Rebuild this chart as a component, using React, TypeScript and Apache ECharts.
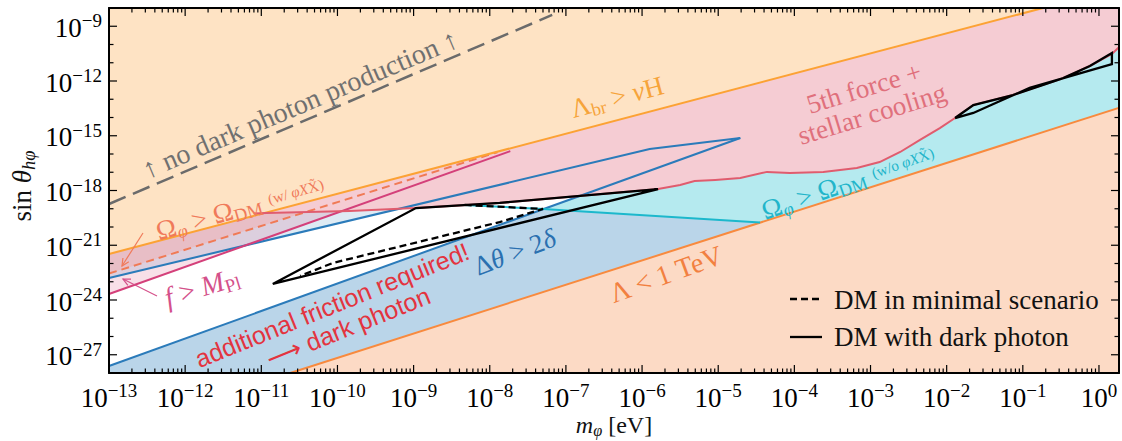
import React, { useEffect, useRef } from 'react';
import * as echarts from 'echarts';

// ---- axis extents (log10 units) ----
const X_MIN = -13;
const X_MAX = 0.263;
const Y_MIN = -28;
const Y_MAX = -8;

const xTickExponents = [-13, -12, -11, -10, -9, -8, -7, -6, -5, -4, -3, -2, -1, 0];
const yTickExponents = [-28, -27, -26, -25, -24, -23, -22, -21, -20, -19, -18, -17, -16, -15, -14, -13, -12, -11, -10, -9, -8];
const yLabelExponents = [-27, -24, -21, -18, -15, -12, -9];
const minorMultipliers = [2, 3, 4, 5, 6, 7, 8, 9];

// ---- curves: [log10 m_phi, log10 sin theta] ----
const noPhotonLine = [[-13, -18.74], [-7.18, -8.38]];
const lambdaBrLine = [[-13, -21.48], [-0.735, -8]];
const lambdaTeVLine = [[-10.62, -28], [0.3, -13.42]];
const lowerBlueLine = [[-13, -27.62], [-4.71, -15.12]];
const upperBlueLine = [[-13, -22.79], [-5.9, -15.73], [-4.71, -15.12]];
const fMplLine = [[-13, -23.67], [-7.73, -15.84]];
const omegaWithLine = [[-13, -22.55], [-7.9, -15.9]];
const omegaWithoutLine = [[-8.33, -18.79], [-7.3, -19.01], [-4.45, -19.75]];
const fifthForceLine = [
  [-11.1, -19.26], [-10.93, -19.23], [-9.84, -19.12], [-8.97, -18.96], [-7.87, -18.68],
  [-5.79, -17.92], [-5.5, -17.7], [-5.31, -17.48], [-5.04, -17.42], [-4.71, -17.32],
  [-4.36, -16.98], [-4.06, -17.04], [-3.62, -16.99], [-3.18, -16.77], [-2.88, -16.44],
  [-2.61, -15.89], [-2.35, -15.23], [-2.09, -14.58], [-1.89, -14.03], [-1.65, -13.32],
  [-1.13, -12.77], [-0.47, -11.84], [-0.12, -11.18], [0.17, -10.52], [0.3, -10.0],
];
const dmPhotonLeft = [[-10.85, -23.12], [-8.97, -18.96], [-7.87, -18.68], [-5.79, -17.92], [-10.85, -23.12]];
const dmPhotonRight = [
  [-1.89, -14.03], [-1.65, -13.32], [-1.13, -12.77], [-0.47, -11.84], [-0.12, -11.18],
  [0.17, -10.47], [0.17, -11.07], [-0.91, -12.38], [-1.65, -13.75], [-1.89, -14.03],
];
const dmMinimal = [[-8.33, -18.79], [-7.3, -19.01], [-7.87, -19.73], [-10.06, -21.97], [-10.49, -22.68]];

const SERIF = '"Liberation Serif", "DejaVu Serif", serif';
const SANS = '"Liberation Sans", "DejaVu Sans", sans-serif';

function polySeries(points: number[][], color: string, z: number) {
  return {
    type: 'custom',
    coordinateSystem: 'cartesian2d',
    clip: true,
    silent: true,
    z,
    data: [[X_MIN, Y_MIN]],
    renderItem: (_p: any, api: any) => ({
      type: 'polygon',
      shape: { points: points.map((p) => api.coord(p)) },
      style: { fill: color },
    }),
  };
}

function lineSeries(points: number[][], color: string, width: number, z: number, dash?: number[], name?: string) {
  return {
    type: 'line',
    name,
    data: points,
    showSymbol: false,
    symbol: 'none',
    silent: true,
    clip: true,
    z,
    lineStyle: { color, width, type: dash ? dash : 'solid', cap: 'butt', join: 'miter' },
  };
}

function tickSeries(data: number[][], isX: boolean) {
  return {
    type: 'custom',
    coordinateSystem: 'cartesian2d',
    clip: false,
    silent: true,
    z: 30,
    data,
    renderItem: (params: any, api: any) => {
      const cs = params.coordSys;
      const len = api.value(2);
      const st = { stroke: '#000', lineWidth: 1.2 };
      if (isX) {
        const px = api.coord([api.value(0), Y_MIN])[0];
        return {
          type: 'group',
          children: [
            { type: 'line', shape: { x1: px, y1: cs.y + cs.height, x2: px, y2: cs.y + cs.height - len }, style: st },
            { type: 'line', shape: { x1: px, y1: cs.y, x2: px, y2: cs.y + len }, style: st },
          ],
        };
      }
      const py = api.coord([X_MIN, api.value(1)])[1];
      return {
        type: 'group',
        children: [
          { type: 'line', shape: { x1: cs.x, y1: py, x2: cs.x + len, y2: py }, style: st },
          { type: 'line', shape: { x1: cs.x + cs.width, y1: py, x2: cs.x + cs.width - len, y2: py }, style: st },
        ],
      };
    },
  };
}

function richSet(size: number, color: string, family = SERIF) {
  return {
    r: { fontFamily: family, fontSize: size, fill: color, lineHeight: size * 1.15, verticalAlign: 'middle' },
    i: { fontFamily: family, fontStyle: 'italic', fontSize: size, fill: color, lineHeight: size * 1.15, verticalAlign: 'middle' },
    s: { fontFamily: family, fontSize: size * 0.68, fill: color, lineHeight: size * 0.8, verticalAlign: 'bottom' },
    si: { fontFamily: family, fontStyle: 'italic', fontSize: size * 0.68, fill: color, lineHeight: size * 0.8, verticalAlign: 'bottom' },
    t: { fontFamily: family, fontSize: size * 0.56, fill: color, lineHeight: size * 0.6, verticalAlign: 'middle' },
    ti: { fontFamily: family, fontStyle: 'italic', fontSize: size * 0.56, fill: color, lineHeight: size * 0.6, verticalAlign: 'middle' },
  };
}

function label(text: string, x: number, y: number, rotDeg: number, color: string, size: number, family = SERIF, align = 'center') {
  return {
    type: 'text',
    x,
    y,
    rotation: (rotDeg * Math.PI) / 180,
    z: 100,
    silent: true,
    style: {
      text,
      rich: richSet(size, color, family),
      fill: color,
      fontFamily: family,
      fontSize: size,
      align,
      verticalAlign: 'middle',
    },
  };
}

function arrow(x1: number, y1: number, x2: number, y2: number, color: string) {
  const a = Math.atan2(y2 - y1, x2 - x1);
  const h = 8;
  const w = 0.45;
  return {
    type: 'group',
    z: 100,
    silent: true,
    children: [
      { type: 'line', z: 100, shape: { x1, y1, x2, y2 }, style: { stroke: color, lineWidth: 1.2 } },
      {
        type: 'polyline',
        z: 100,
        shape: {
          points: [
            [x2 - h * Math.cos(a - w), y2 - h * Math.sin(a - w)],
            [x2, y2],
            [x2 - h * Math.cos(a + w), y2 - h * Math.sin(a + w)],
          ],
        },
        style: { stroke: color, lineWidth: 1.2, fill: 'none' },
      },
    ],
  };
}

export default function App() {
  const ref = useRef<HTMLDivElement>(null);
  useEffect(() => {
    if (!ref.current) return;
    const chart = echarts.init(ref.current, undefined, { renderer: 'svg' });

    const xMajor = xTickExponents.map((v) => [v, Y_MIN, 8]);
    const xMinor: number[][] = [];
    xTickExponents.forEach((n) => {
      minorMultipliers.forEach((k) => {
        const v = n + Math.log10(k);
        if (v < X_MAX) xMinor.push([v, Y_MIN, 4.5]);
      });
    });
    const yTicks = yTickExponents.map((v) => [X_MIN, v, yLabelExponents.includes(v) ? 8 : 4.5]);

    const tickRich = {
      b: { fontFamily: SERIF, fontSize: 27, color: '#000', lineHeight: 30, verticalAlign: 'bottom' },
      s: { fontFamily: SERIF, fontSize: 19, color: '#000', lineHeight: 19, verticalAlign: 'top' },
    };
    const expLabel = (v: number) => `{b|10}{s|${v < 0 ? '\u2212' : ''}${Math.abs(Math.round(v))}}`;

    const axisCommon = {
      type: 'value',
      z: 40,
      axisLine: { show: true, onZero: false, lineStyle: { color: '#000', width: 2 } },
      axisTick: { show: false },
      splitLine: { show: false },
    };

    const option: any = {
      animation: false,
      backgroundColor: '#fff',
      grid: { left: 109, top: 8, width: 1010, height: 365, containLabel: false, outerBoundsMode: 'none' },
      xAxis: [
        {
          ...axisCommon,
          min: X_MIN,
          max: X_MAX,
          interval: 1,
          position: 'bottom',
          axisLabel: {
            show: true,
            margin: 8,
            formatter: (v: number) => (Math.abs(v - Math.round(v)) < 1e-6 ? expLabel(v) : ''),
            rich: tickRich,
          },
        },
        { ...axisCommon, min: X_MIN, max: X_MAX, interval: 1, position: 'top', axisLabel: { show: false } },
      ],
      yAxis: [
        {
          ...axisCommon,
          min: Y_MIN,
          max: Y_MAX,
          interval: 1,
          position: 'left',
          axisLabel: {
            show: true,
            margin: 7,
            formatter: (v: number) => (yLabelExponents.includes(Math.round(v)) && Math.abs(v - Math.round(v)) < 1e-6 ? expLabel(v) : ''),
            rich: tickRich,
          },
        },
        { ...axisCommon, min: Y_MIN, max: Y_MAX, interval: 1, position: 'right', axisLabel: { show: false } },
      ],
      series: [
        // fills
        polySeries([...upperBlueLine, [upperBlueLine[2][0], Y_MAX], [X_MIN, Y_MAX]], 'rgba(31,119,180,0.15)', 1),
        polySeries([...omegaWithLine, [omegaWithLine[1][0], Y_MAX], [X_MIN, Y_MAX]], 'rgba(250,195,185,0.5)', 2),
        polySeries([...fMplLine, [fMplLine[1][0], Y_MAX], [X_MIN, Y_MAX]], 'rgba(214,60,110,0.16)', 3),
        polySeries([...lowerBlueLine, [X_MAX + 1, lowerBlueLine[1][1]], [X_MAX + 1, Y_MIN - 1], [X_MIN, Y_MIN - 1]], '#bad5e9', 4),
        polySeries(
          [omegaWithoutLine[1], lowerBlueLine[1], [lowerBlueLine[1][0], Y_MAX + 1], [lambdaTeVLine[1][0], Y_MAX + 1], lambdaTeVLine[1], omegaWithoutLine[2]],
          '#b5eaef',
          5,
        ),
        polySeries([...fifthForceLine, [fifthForceLine[fifthForceLine.length - 1][0], Y_MAX + 1], [fifthForceLine[0][0], Y_MAX + 1]], '#f5ccd3', 6),
        polySeries([...lambdaBrLine, [X_MIN, Y_MAX]], '#fee3c4', 7),
        polySeries([...lambdaTeVLine, [lambdaTeVLine[1][0], Y_MIN - 1]], '#fcdac5', 8),
        // lines
        lineSeries(noPhotonLine, '#6b6b6b', 2.5, 10, [18, 8]),
        lineSeries(upperBlueLine, '#2b7bba', 2, 11),
        lineSeries(lowerBlueLine, '#2b7bba', 2, 11),
        lineSeries(omegaWithLine, '#f07a55', 2, 12, [8, 5]),
        lineSeries(fMplLine, '#d4407a', 2, 12),
        lineSeries(lambdaBrLine, '#fca234', 2, 13),
        lineSeries(lambdaTeVLine, '#f88a3e', 2, 13),
        lineSeries(fifthForceLine, '#e05c6e', 2, 13),
        lineSeries(omegaWithoutLine, '#1cb8cc', 2, 14),
        lineSeries(dmMinimal, '#000', 2.3, 15, [7, 4], 'DM in minimal scenario'),
        lineSeries(dmPhotonLeft, '#000', 2.3, 16, undefined, 'DM with dark photon'),
        lineSeries(dmPhotonRight, '#000', 2.3, 16, undefined, 'DM with dark photon'),
        // ticks
        tickSeries([...xMajor, ...xMinor], true),
        tickSeries(yTicks, false),
      ],
      graphic: [
        label('{r|\u2191 no dark photon production \u2191}', 300, 104, 23, '#707070', 28),
        label('{r|\u039B}{s|br}{r| > }{i|v}{r|H}', 617, 97, 15, '#f6a43a', 27),
        label('{r|5th force +}', 864, 88, 17, '#e0707c', 27),
        label('{r|stellar cooling}', 872, 114, 17, '#e0707c', 27),
        label('{r|\u03A9}{si|\u03C6}{r| > \u03A9}{s|DM}{t|  (w/ }{ti|\u03C6X}{t|X\u0303)}', 240, 208, 16, '#f07a5a', 27),
        label('{i|f}{r| > }{i|M}{s|Pl}', 202, 287, 17, '#d4508a', 28),
        label('{r|additional friction required!}', 332, 305, 22, '#e3343f', 25, SANS),
        label('{r|\u27F6 dark photon}', 348, 327, 22, '#e3343f', 25, SANS),
        label('{r|\u0394}{i|\u03B8}{r| > 2}{i|\u03B4}', 515, 252, 21, '#2a70b0', 27),
        label('{r|\u039B < 1 TeV}', 666, 274, 20, '#f28040', 28),
        label('{r|\u03A9}{si|\u03C6}{r| > \u03A9}{s|DM}{t|  (w/o }{ti|\u03C6X}{t|X\u0303)}', 848, 182, 19, '#22b5ca', 27),
        arrow(143, 233, 122, 266, '#f07a5a'),
        arrow(157, 296, 123, 279, '#d4508a'),
        // legend
        { type: 'line', z: 100, silent: true, shape: { x1: 790, y1: 299, x2: 822, y2: 299 }, style: { stroke: '#000', lineWidth: 2.3, lineDash: [7, 4] } },
        label('{r|DM in minimal scenario}', 834, 300, 0, '#111', 27, SERIF, 'left'),
        { type: 'line', z: 100, silent: true, shape: { x1: 790, y1: 337, x2: 822, y2: 337 }, style: { stroke: '#000', lineWidth: 2.3 } },
        label('{r|DM with dark photon}', 834, 337, 0, '#111', 27, SERIF, 'left'),
        // axis titles
        label('{i|m}{si|\u03C6}{r| [eV]}', 614, 425, 0, '#111', 24),
        label('{r|sin }{i|\u03B8}{si|h\u03C6}', 22, 186, 90, '#111', 27),
      ],
    };
    chart.setOption(option);
    return () => chart.dispose();
  }, []);
  return <div ref={ref} style={{ position: 'absolute', left: 0, top: 0, width: 1122, height: 441 }} />;
}
